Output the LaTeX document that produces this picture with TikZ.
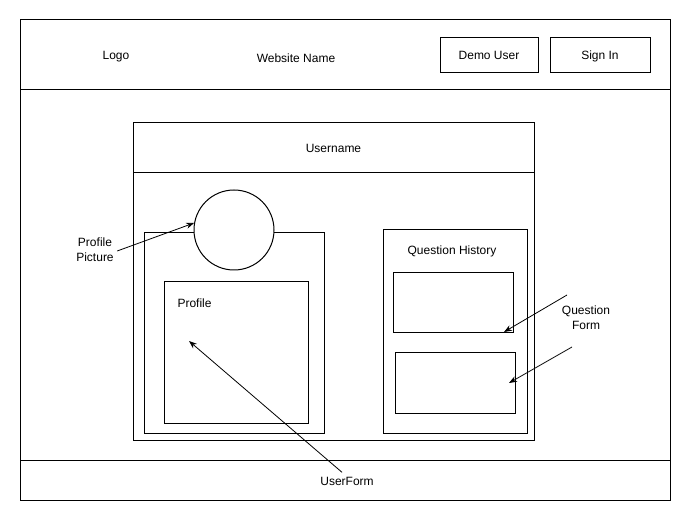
\documentclass[tikz,border=0pt]{standalone}
\usepackage{fontspec}
\setmainfont{Liberation Sans}
\usetikzlibrary{arrows.meta}

\begin{document}
\begin{tikzpicture}[x=1pt, y=-1pt, line width=1pt, font=\fontsize{12}{15}\selectfont,
	box/.style={draw, rectangle, inner sep=0pt, text height=10pt, text depth=1pt},
	label/.style={align=center, inner sep=1pt},
	pointer/.style={-{Stealth[length=8pt,width=6pt]}, line width=0.8pt}]
	\useasboundingbox (0,0) rectangle (691,521);
	% page frame, header and footer
	\draw (20,20) rectangle (670,500);
	\draw (20,90) -- (670,90);
	\draw (20,460) -- (670,460);
	\node[label] (logo) at (116,57) {Logo};
	\node[label] (sitename) at (296,58) {Website Name};
	\node[box, minimum width=98, minimum height=35] (demo) at (489,55.5) {Demo User};
	\node[box, minimum width=100, minimum height=35] (signin) at (600,55.5) {Sign In};
	% user page
	\node[box, minimum width=401, minimum height=50] (username) at (333.5,148) {Username};
	\draw (133,173) rectangle (534,440);
	\node[box, minimum width=180, minimum height=200] (panel) at (234,333) {};
	\node[box, circle, fill=white, minimum size=80] (pic) at (234,230) {};
	\node[box, minimum width=144, minimum height=141] (profile) at (236,352.5) {};
	\node[label, anchor=west] (proftitle) at (176,303) {Profile};
	\node[box, minimum width=144, minimum height=203] (history) at (455,331.5) {};
	\node[label] (histtitle) at (452,251) {Question History};
	\node[box, minimum width=120, minimum height=60] (qone) at (453,303) {};
	\node[box, minimum width=120, minimum height=60] (qtwo) at (455,383) {};
	% callouts
	\node[label] (piclabel) at (95,250) {Profile\\Picture};
	\node[label] (formlabel) at (586,318) {Question\\Form};
	\node[label] (userform) at (347,481) {UserForm};
	\coordinate (formtip) at (189,341);
	\coordinate (qonefrom) at (567,295);
	\coordinate (qoneto) at (504,332);
	\coordinate (qtwofrom) at (572,347);
	\coordinate (qtwoto) at (509,383);
	\draw[pointer] (piclabel.east) ++(2,1) -- (pic.170);
	\draw[pointer] (userform.north) ++(-5,-3) -- (formtip);
	\draw[pointer] (qonefrom) -- (qoneto);
	\draw[pointer] (qtwofrom) -- (qtwoto);
\end{tikzpicture}
\end{document}
